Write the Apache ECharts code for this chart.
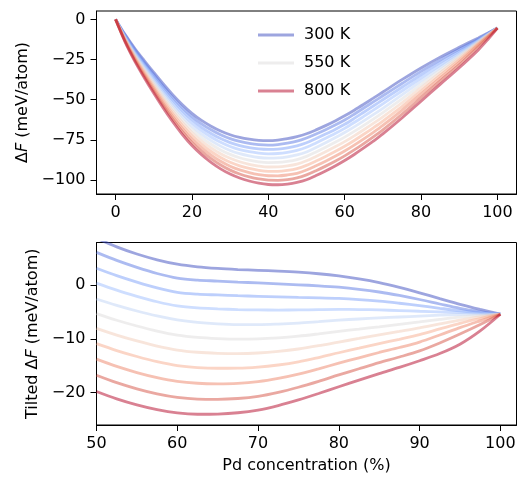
<!DOCTYPE html>
<html>
<head>
<meta charset="utf-8">
<script src="https://cdn.jsdelivr.net/npm/echarts@6/dist/echarts.min.js"></script>
<style>
  html, body { margin: 0; padding: 0; background: #fff; }
  #chart { width: 527px; height: 491px; }
</style>
</head>
<body>
<div id="chart"></div>
<script>
// ---------- data ----------
const temps = [300, 350, 400, 450, 500, 550, 600, 650, 700, 750, 800];
const legendShown = ['300 K', '550 K', '800 K'];

// top panel: Delta F (meV/atom) vs Pd concentration (%)
const xTop = [0, 2.5, 5, 7.5, 10, 12.5, 15, 17.5, 20, 22.5, 25, 27.5, 30, 32.5, 35, 37.5, 40, 42.5, 45, 47.5, 50, 52.5, 55, 57.5, 60, 62.5, 65, 67.5, 70, 75, 80, 85, 90, 95, 97.5, 100];
const dF300 = [0, -9.5, -18, -25.64, -33, -40.22, -47, -53.13, -58.5, -62.89, -66.5, -69.48, -71.8, -73.48, -74.6, -75.3, -75.5, -75.15, -74.3, -72.99, -71.2, -68.81, -66.15, -63.23, -60.05, -56.55, -52.85, -49.05, -45.2, -37.55, -30.25, -23.5, -17.4, -11.55, -8.51, -5.4];
const dF350 = [0, -9.95, -18.8, -26.71, -34.3, -41.73, -48.7, -54.99, -60.5, -65.03, -68.75, -71.84, -74.25, -76.01, -77.2, -77.97, -78.25, -77.93, -77.1, -75.84, -73.85, -71.35, -68.65, -65.79, -62.65, -59.03, -55.2, -51.39, -47.55, -39.9, -32.35, -25.25, -18.65, -12.3, -8.92, -5.4];
const dF400 = [0, -10.45, -19.6, -27.77, -35.6, -43.23, -50.4, -56.85, -62.5, -67.17, -71, -74.19, -76.7, -78.54, -79.8, -80.64, -80.95, -80.71, -79.95, -78.69, -76.8, -74.19, -71.4, -68.48, -65.3, -61.65, -57.8, -53.94, -50.05, -42.25, -34.45, -26.95, -19.8, -12.75, -9.11, -5.4];
const dF450 = [0, -10.9, -20.4, -28.84, -36.9, -44.74, -52.05, -58.71, -64.55, -69.3, -73.25, -76.55, -79.15, -81.07, -82.4, -83.31, -83.7, -83.49, -82.75, -81.54, -79.6, -76.91, -74.05, -71.07, -67.85, -64.23, -60.4, -56.53, -52.6, -44.6, -36.5, -28.6, -20.85, -13.1, -9.24, -5.4];
const dF500 = [0, -11.4, -21.2, -29.9, -38.2, -46.24, -53.75, -60.57, -66.55, -71.44, -75.5, -78.9, -81.6, -83.6, -85, -85.98, -86.4, -86.27, -85.6, -84.39, -82.55, -79.75, -76.8, -73.72, -70.45, -66.92, -63.2, -59.34, -55.35, -47.05, -38.5, -30.1, -21.75, -13.45, -9.39, -5.4];
const dF550 = [0, -11.85, -22, -30.97, -39.5, -47.75, -55.45, -62.43, -68.55, -73.58, -77.75, -81.26, -84.05, -86.13, -87.6, -88.65, -89.15, -89.05, -88.4, -87.25, -85.3, -82.53, -79.6, -76.55, -73.3, -69.73, -65.95, -62.05, -58, -49.5, -40.6, -31.75, -22.85, -13.95, -9.63, -5.4];
const dF600 = [0, -12.3, -22.8, -32.03, -40.8, -49.26, -57.15, -64.28, -70.55, -75.72, -80, -83.62, -86.5, -88.65, -90.2, -91.31, -91.9, -91.83, -91.2, -90.1, -88.05, -85.31, -82.4, -79.36, -76.1, -72.51, -68.7, -64.76, -60.65, -51.9, -42.6, -33.25, -23.95, -14.5, -9.91, -5.4];
const dF650 = [0, -12.8, -23.6, -33.1, -42.1, -50.76, -58.85, -66.14, -72.6, -77.86, -82.25, -85.97, -88.95, -91.18, -92.8, -93.98, -94.6, -94.61, -94.05, -92.95, -90.9, -88.19, -85.3, -82.27, -79, -75.37, -71.5, -67.49, -63.3, -54.3, -44.6, -34.9, -25.2, -15.1, -10.2, -5.4];
const dF700 = [0, -13.25, -24.4, -34.16, -43.4, -52.27, -60.5, -68.0, -74.6, -80.0, -84.5, -88.33, -91.4, -93.71, -95.4, -96.65, -97.35, -97.39, -96.85, -95.8, -93.8, -91.16, -88.3, -85.25, -81.95, -78.3, -74.4, -70.32, -66, -56.6, -46.55, -36.55, -26.6, -15.9, -10.63, -5.4];
const dF750 = [0, -13.75, -25.2, -35.23, -44.7, -53.77, -62.2, -69.86, -76.6, -82.13, -86.75, -90.68, -93.85, -96.24, -98, -99.32, -100.1, -100.17, -99.7, -98.65, -96.8, -94.19, -91.35, -88.29, -84.95, -81.26, -77.3, -73.15, -68.75, -59.05, -48.75, -38.45, -28.25, -17.1, -11.32, -5.4];
const dF800 = [0, -14.2, -26, -36.29, -46, -55.28, -63.9, -71.72, -78.6, -84.27, -89, -93.04, -96.3, -98.77, -100.6, -101.99, -102.8, -102.95, -102.5, -101.5, -99.85, -97.23, -94.35, -91.24, -87.85, -84.09, -80.05, -75.81, -71.3, -61.4, -50.95, -40.5, -30.1, -19.0, -12.51, -5.4];

// bottom panel: tilted Delta F (meV/atom)
const xBottom = [50, 52.5, 55, 57.5, 60, 62.5, 65, 67.5, 70, 72.5, 75, 77.5, 80, 82.5, 85, 87.5, 90, 92.5, 95, 97.5, 100];
const tilt300 = [8.8, 7.19, 5.85, 4.77, 3.95, 3.45, 3.15, 2.95, 2.8, 2.65, 2.45, 2.16, 1.75, 1.2, 0.5, -0.39, -1.4, -2.48, -3.55, -4.51, -5.4];
const tilt350 = [6.15, 4.65, 3.35, 2.21, 1.35, 0.97, 0.8, 0.61, 0.45, 0.28, 0.1, -0.09, -0.35, -0.74, -1.25, -1.9, -2.65, -3.49, -4.3, -4.92, -5.4];
const tilt400 = [3.2, 1.81, 0.6, -0.48, -1.3, -1.65, -1.8, -1.94, -2.05, -2.15, -2.25, -2.33, -2.45, -2.66, -2.95, -3.35, -3.8, -4.29, -4.75, -5.11, -5.4];
const tilt450 = [0.4, -0.91, -2.05, -3.07, -3.85, -4.23, -4.4, -4.53, -4.6, -4.62, -4.6, -4.54, -4.5, -4.53, -4.6, -4.72, -4.85, -4.97, -5.1, -5.24, -5.4];
const tilt500 = [-2.55, -3.75, -4.8, -5.72, -6.45, -6.92, -7.2, -7.34, -7.35, -7.24, -7.05, -6.78, -6.5, -6.29, -6.1, -5.92, -5.75, -5.58, -5.45, -5.39, -5.4];
const tilt550 = [-5.3, -6.53, -7.6, -8.55, -9.3, -9.73, -9.95, -10.05, -10.0, -9.81, -9.5, -9.07, -8.6, -8.18, -7.75, -7.3, -6.85, -6.38, -5.95, -5.63, -5.4];
const tilt600 = [-8.05, -9.31, -10.4, -11.36, -12.1, -12.51, -12.7, -12.76, -12.65, -12.35, -11.9, -11.29, -10.6, -9.93, -9.25, -8.61, -7.95, -7.21, -6.5, -5.91, -5.4];
const tilt650 = [-10.9, -12.19, -13.3, -14.27, -15.0, -15.37, -15.5, -15.49, -15.3, -14.89, -14.3, -13.49, -12.6, -11.75, -10.9, -10.08, -9.2, -8.15, -7.1, -6.2, -5.4];
const tilt700 = [-13.8, -15.16, -16.3, -17.25, -17.95, -18.3, -18.4, -18.32, -18.0, -17.4, -16.6, -15.61, -14.55, -13.54, -12.55, -11.62, -10.6, -9.28, -7.9, -6.63, -5.4];
const tilt750 = [-16.8, -18.19, -19.35, -20.29, -20.95, -21.26, -21.3, -21.15, -20.75, -20.01, -19.05, -17.94, -16.75, -15.59, -14.45, -13.4, -12.25, -10.77, -9.1, -7.32, -5.4];
const tilt800 = [-19.85, -21.23, -22.35, -23.24, -23.85, -24.09, -24.05, -23.81, -23.3, -22.46, -21.4, -20.21, -18.95, -17.72, -16.5, -15.34, -14.1, -12.75, -11.0, -8.51, -5.4];

const topCurves = [dF300, dF350, dF400, dF450, dF500, dF550, dF600, dF650, dF700, dF750, dF800];
const bottomCurves = [tilt300, tilt350, tilt400, tilt450, tilt500, tilt550, tilt600, tilt650, tilt700, tilt750, tilt800];

// coolwarm colormap samples (11 steps)
const coolwarm = ['#3b4cc0', '#5977e3', '#7b9ff9', '#9ebeff', '#c0d4f5', '#dddcdc', '#f2cbb7', '#f7ac8e', '#ee8468', '#d65244', '#b40426'];
const lineAlpha = 0.5;

const topYTicks = [-100, -75, -50, -25, 0];
const topXTicks = [0, 20, 40, 60, 80, 100];
const botYTicks = [-20, -10, 0];
const botXTicks = [50, 60, 70, 80, 90, 100];

// ---------- chart ----------
const FONT = 'DejaVu Sans';
function rgba(hex, a) {
  const r = parseInt(hex.slice(1, 3), 16), g = parseInt(hex.slice(3, 5), 16), b = parseInt(hex.slice(5, 7), 16);
  return 'rgba(' + r + ',' + g + ',' + b + ',' + a + ')';
}
const fmt = v => String(v).replace('-', '\u2212');

const chart = echarts.init(document.getElementById('chart'), null, { renderer: 'canvas' });

function mkAxis(extra, ticks) {
  const a = {
    axisLine: { show: true, onZero: false, lineStyle: { color: '#000', width: 1 } },
    axisTick: { show: true, inside: false, length: 6, customValues: ticks, lineStyle: { color: '#000', width: 1 } },
    axisLabel: { color: '#000', fontFamily: FONT, fontSize: 16, margin: 11, formatter: fmt, customValues: ticks },
    splitLine: { show: false }
  };
  return Object.assign(a, extra);
}

const SMOOTH = 0.33;
const series = [];
temps.forEach((t, i) => {
  const col = rgba(coolwarm[i], lineAlpha);
  series.push({
    name: t + ' K', type: 'line', xAxisIndex: 0, yAxisIndex: 0,
    data: xTop.map((x, j) => [x, topCurves[i][j]]),
    showSymbol: false, smooth: SMOOTH, clip: true,
    color: col, lineStyle: { color: col, width: 2.8 }, z: 2 + i
  });
});
temps.forEach((t, i) => {
  const col = rgba(coolwarm[i], lineAlpha);
  series.push({
    name: t + ' K', type: 'line', xAxisIndex: 1, yAxisIndex: 1,
    data: xBottom.map((x, j) => [x, bottomCurves[i][j]]),
    showSymbol: false, smooth: SMOOTH, clip: true,
    color: col, lineStyle: { color: col, width: 2.8 }, z: 2 + i
  });
});

const nameStyle = {
  color: '#000', fontFamily: FONT, fontSize: 16,
  rich: { i: { fontStyle: 'italic', fontFamily: FONT, fontSize: 16, color: '#000' } }
};

const option = {
  backgroundColor: '#fff',
  animation: false,
  grid: [
    { left: 96.5, top: 11, width: 420, height: 183, show: true, borderColor: '#000', borderWidth: 1, backgroundColor: 'transparent' },
    { left: 96.5, top: 242.5, width: 420, height: 182.5, show: true, borderColor: '#000', borderWidth: 1, backgroundColor: 'transparent' }
  ],
  xAxis: [
    mkAxis({ type: 'value', gridIndex: 0, min: -5, max: 105 }, topXTicks),
    mkAxis({ type: 'value', gridIndex: 1, min: 50, max: 102,
      name: 'Pd concentration (%)', nameLocation: 'middle', nameGap: 33,
      nameTextStyle: { color: '#000', fontFamily: FONT, fontSize: 16 } }, botXTicks)
  ],
  yAxis: [
    mkAxis({ type: 'value', gridIndex: 0, min: -108.7, max: 5.2,
      name: '\u0394{i|F} (meV/atom)', nameLocation: 'middle', nameGap: 60, nameRotate: 90,
      nameTextStyle: nameStyle }, topYTicks),
    mkAxis({ type: 'value', gridIndex: 1, min: -26.1, max: 8,
      name: 'Tilted \u0394{i|F} (meV/atom)', nameLocation: 'middle', nameGap: 52, nameRotate: 90,
      nameTextStyle: nameStyle }, botYTicks)
  ],
  legend: {
    show: true, orient: 'vertical', left: 258, top: 26, padding: 0,
    data: legendShown, icon: 'rect', itemWidth: 36, itemHeight: 3, itemGap: 10,
    selectedMode: false,
    textStyle: { color: '#000', fontFamily: FONT, fontSize: 16, lineHeight: 18, padding: [0, 0, 0, 5] }
  },
  series: series
};
chart.setOption(option);
</script>
</body>
</html>
